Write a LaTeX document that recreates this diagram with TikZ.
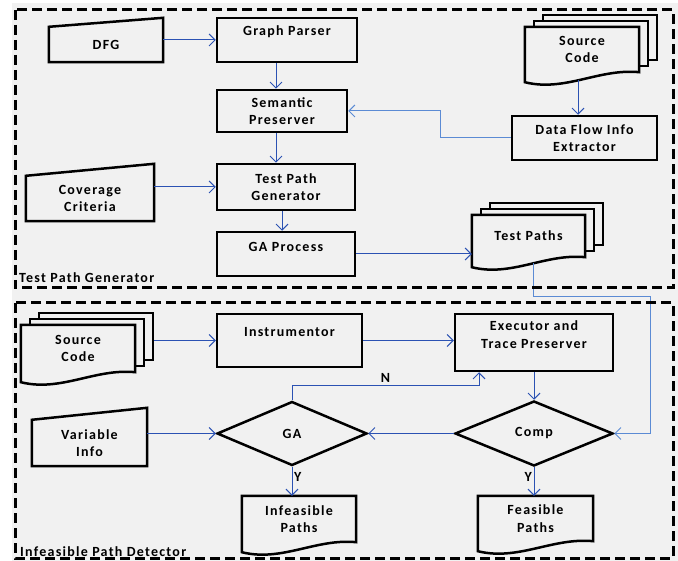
\documentclass[tikz,border=0pt]{standalone}
\usepackage{fontspec}
\setmainfont{Carlito}[LetterSpace=9]
\usepackage{xcolor}
\usepackage{tikz}
\usetikzlibrary{arrows.meta, positioning, shapes.geometric, calc}

\definecolor{bggray}{HTML}{F1F1F1}
\definecolor{flow}{HTML}{2B52B3}
\definecolor{lightflow}{HTML}{5B8BD4}

\pgfdeclarelayer{shapes}
\pgfsetlayers{shapes,main}

% outlines drawn round the text nodes
\newcommand{\docshape}[1]{%
  \draw[border] (#1.north west) -- (#1.north east) -- (#1.south east)
    .. controls ($(#1.south east)!0.35!(#1.south west)+(0,-4)$)
       and ($(#1.south east)!0.65!(#1.south west)+(0,20)$) .. ([yshift=-10pt]#1.south west) -- cycle;}
\newcommand{\stackshape}[1]{%
  \draw[border] ([shift={(18,-12)}]#1.north west) rectangle ([shift={(18,-12)}]#1.south east);
  \draw[border] ([shift={(9,-6)}]#1.north west) rectangle ([shift={(9,-6)}]#1.south east);
  \docshape{#1}}
\newcommand{\manualshape}[2]{%
  \draw[border] (#1.south west) -- (#1.north west) -- ([yshift=#2]#1.north east) -- (#1.south east) -- cycle;}

\begin{document}
\begin{tikzpicture}[
        x={(1pt,0)}, y={(0,-1pt)},
        every node/.style={font=\bfseries\fontsize{14}{17.5}\selectfont},
        block/.style={rectangle, draw, line width=2.5pt, align=center, inner sep=0pt},
        txt/.style={rectangle, align=center, inner sep=0pt},
        decision/.style={diamond, draw, line width=2.5pt, inner sep=0pt},
        border/.style={line width=2.5pt, fill=bggray},
        arrow/.style={-{Straight Barb[length=6pt,width=12pt]}, flow, line width=1pt},
        frame/.style={line width=3pt, dash pattern=on 10pt off 5pt}
    ]
        \useasboundingbox (0,0) rectangle (678,561);

        % Test Path Generator
        \node[txt, minimum width=114pt, minimum height=35pt] (dfg) at (106,44.5) {DFG};
        \node[block, minimum width=140pt, minimum height=44pt, text depth=19pt] (parser) at (287,40) {Graph Parser};
        \node[block, minimum width=130pt, minimum height=42pt] (semantic) at (282,111) {Semantic\\Preserver};
        \node[txt, minimum width=114pt, minimum height=45pt] (srctop) at (582,49.5) {Source\\Code};
        \node[block, minimum width=145pt, minimum height=44pt] (dfie) at (584.5,138) {Data Flow Info\\Extractor};
        \node[txt, minimum width=128pt, minimum height=45pt] (coverage) at (90,198.5) {Coverage\\Criteria};
        \node[block, minimum width=138pt, minimum height=46pt] (tpg) at (286,187) {Test Path\\Generator};
        \node[block, minimum width=138pt, minimum height=44pt, text depth=15pt] (gaproc) at (286,254) {GA Process};
        \node[txt, minimum width=113pt, minimum height=42pt] (testpaths) at (528.5,236) {Test Paths};

        % Infeasible Path Detector
        \node[txt, minimum width=114pt, minimum height=47pt] (srcbot) at (78,348.5) {Source\\Code};
        \node[block, minimum width=145pt, minimum height=53pt, text depth=18pt] (instr) at (289.5,340.5) {Instrumentor};
        \node[block, minimum width=158pt, minimum height=57pt, text depth=16pt] (exec) at (534,342.5) {Executor and\\Trace Preserver};
        \node[txt, minimum width=115pt, minimum height=46pt] (varinfo) at (89.5,443) {Variable\\Info};
        \node[decision, minimum width=150pt, minimum height=64pt] (ga) at (292,433.5) {GA};
        \node[decision, minimum width=158pt, minimum height=65pt] (comp) at (534,433.5) {Comp};
        \node[txt, minimum width=114pt, minimum height=46pt] (infeas) at (299,519) {Infeasible\\Paths};
        \node[txt, minimum width=115pt, minimum height=45pt] (feas) at (535.5,518.5) {Feasible\\Paths};

        \begin{pgfonlayer}{shapes}
            \fill[bggray] (12,3) rectangle (678,561);
            \foreach \n in {srctop, testpaths, srcbot} {\stackshape{\n}}
            \foreach \n in {infeas, feas} {\docshape{\n}}
            \foreach \n/\s in {dfg/9pt, coverage/12pt, varinfo/12pt} {\manualshape{\n}{\s}}
        \end{pgfonlayer}

        \coordinate (turn) at (650,297);

        \draw[arrow] (dfg.east |- parser) -- (parser.west);
        \draw[arrow] ([xshift=-11pt]parser.south) -- ([xshift=-11pt]parser.south |- semantic.north);
        \draw[arrow] ([xshift=-6pt]semantic.south) -- ([xshift=-6pt]semantic.south |- tpg.north);
        \draw[arrow] ([xshift=-4pt]tpg.south) -- ([xshift=-4pt]tpg.south |- gaproc.north);
        \draw[arrow] (coverage.east |- tpg) -- (tpg.west);
        \draw[arrow] ([xshift=-4pt,yshift=-8pt]srctop.south) -- ([xshift=-4pt]srctop.south |- dfie.north);
        \draw[arrow, lightflow] (dfie.west) -- ++(-70,0) |- (semantic.east);
        \draw[arrow] (gaproc.east) -- (gaproc.east -| testpaths.west);
        \draw[arrow, lightflow] ([xshift=4.5pt,yshift=-6pt]testpaths.south) |- (turn) |- (comp.east);

        \draw[arrow] ([xshift=19pt]srcbot.east |- instr.west) -- (instr.west);
        \draw[arrow] (instr.east) -- (instr.east -| exec.west);
        \draw[arrow] (exec.south) -- (comp.north);
        \draw[arrow] (comp.west) -- (ga.east);
        \draw[arrow] (ga.north) -- ++(0,-15) -| ([xshift=-55pt]exec.south) node[pos=0.25, above, black, inner sep=2pt] {N};
        \draw[arrow] (varinfo.east |- ga) -- (ga.west);
        \draw[arrow] (ga.south) -- (ga.south |- infeas.north) node[pos=0.35, right, black, inner sep=1.5pt] {Y};
        \draw[arrow] (comp.south) -- (comp.south |- feas.north) node[pos=0.35, left, black, inner sep=1.5pt] {Y};

        % the two parts
        \draw[frame] (15,10) rectangle (673,288);
        \draw[frame] (15,303) rectangle (673,558);
        \node[anchor=base west, inner sep=0pt] (tpglabel) at (19,283) {Test Path Generator};
        \node[anchor=base west, inner sep=0pt] (ipdlabel) at (20,556) {Infeasible Path Detector};
    \end{tikzpicture}
\end{document}
